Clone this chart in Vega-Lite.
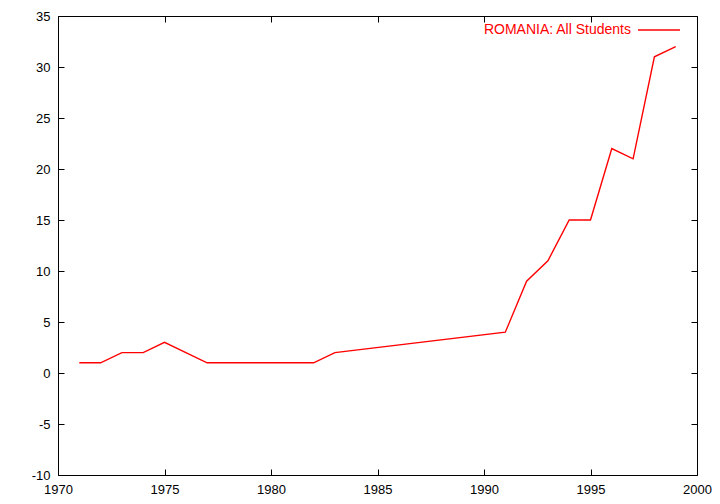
{
  "$schema": "https://vega.github.io/schema/vega-lite/v6.json",
  "width": 639,
  "height": 459,
  "autosize": "none",
  "padding": {"left": 58, "top": 16, "right": 23, "bottom": 29},
  "background": "white",
  "config": {
    "view": {"stroke": "#000", "strokeWidth": 1},
    "font": "Liberation Sans",
    "axis": {
      "grid": false,
      "domain": false,
      "tickColor": "#000",
      "tickSize": -6,
      "tickWidth": 1,
      "labelFont": "Liberation Sans",
      "labelFontSize": 13,
      "labelColor": "#000",
      "title": null
    }
  },
  "data": {
    "values": [
      {"year": 1971, "value": 1},
      {"year": 1972, "value": 1},
      {"year": 1973, "value": 2},
      {"year": 1974, "value": 2},
      {"year": 1975, "value": 3},
      {"year": 1977, "value": 1},
      {"year": 1982, "value": 1},
      {"year": 1983, "value": 2},
      {"year": 1991, "value": 4},
      {"year": 1992, "value": 9},
      {"year": 1993, "value": 11},
      {"year": 1994, "value": 15},
      {"year": 1995, "value": 15},
      {"year": 1996, "value": 22},
      {"year": 1997, "value": 21},
      {"year": 1998, "value": 31},
      {"year": 1999, "value": 32}
    ]
  },
  "layer": [
    {
      "mark": {"type": "line", "strokeWidth": 1.4},
      "encoding": {
        "x": {
          "field": "year", "type": "quantitative",
          "scale": {"domain": [1970, 2000], "nice": false, "zero": false},
          "axis": {"orient": "bottom", "values": [1970, 1975, 1980, 1985, 1990, 1995, 2000], "labelExpr": "'' + datum.value", "labelPadding": 14, "labelFlush": false}
        },
        "y": {
          "field": "value", "type": "quantitative",
          "scale": {"domain": [-10, 35], "nice": false, "zero": false},
          "axis": {"orient": "left", "values": [-10, -5, 0, 5, 10, 15, 20, 25, 30, 35], "labelExpr": "'' + datum.value", "labelPadding": 14, "labelFlush": false}
        },
        "color": {
          "datum": "ROMANIA: All Students",
          "type": "nominal",
          "scale": {"range": ["#ff0000"]},
          "legend": {
            "title": null,
            "orient": "none",
            "legendX": 579,
            "legendY": -8,
            "padding": 0,
            "symbolType": "stroke",
            "symbolSize": 1764,
            "symbolStrokeWidth": 1.4,
            "symbolStrokeColor": "#ff0000",
            "labelAlign": "right",
            "labelOffset": -50,
            "labelColor": "#ff0000",
            "labelFont": "Liberation Sans",
            "labelFontSize": 14
          }
        }
      }
    },
    {
      "mark": {"type": "line", "opacity": 0},
      "encoding": {
        "x": {
          "field": "year", "type": "quantitative",
          "scale": {"domain": [1970, 2000], "nice": false, "zero": false},
          "axis": {"orient": "top", "values": [1970, 1975, 1980, 1985, 1990, 1995, 2000], "labels": false}
        },
        "y": {
          "field": "value", "type": "quantitative",
          "scale": {"domain": [-10, 35], "nice": false, "zero": false},
          "axis": {"orient": "right", "values": [-10, -5, 0, 5, 10, 15, 20, 25, 30, 35], "labels": false}
        }
      }
    }
  ],
  "resolve": {"axis": {"x": "independent", "y": "independent"}}
}
